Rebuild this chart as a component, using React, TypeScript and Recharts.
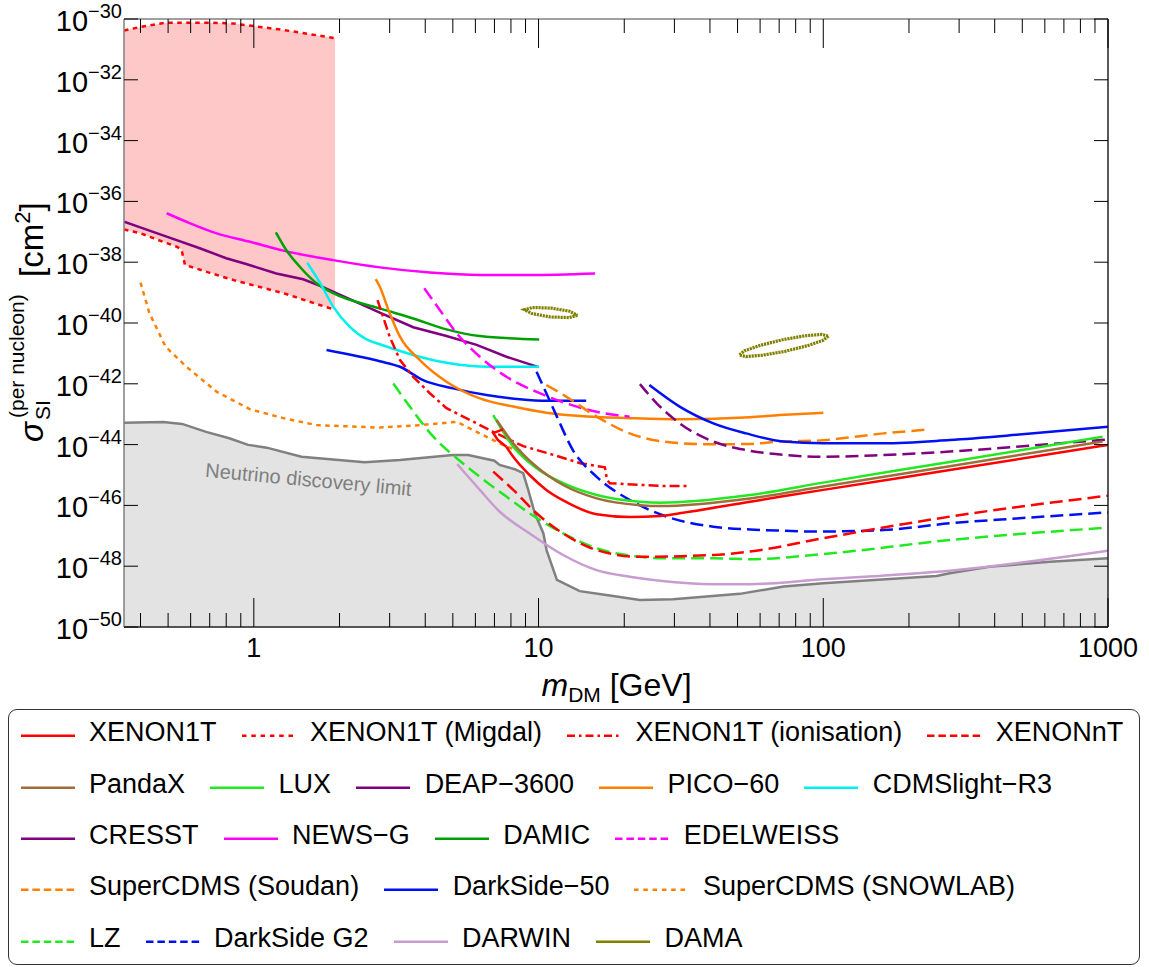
import React from "react";
import {
  ComposedChart,
  Line,
  Area,
  XAxis,
  YAxis,
  ReferenceLine,
  ReferenceDot,
} from "recharts";

type Pt = [number, number];

// values: [m_DM (GeV), sigma_SI (cm^2)]
const xenon1tHook: Pt[] = [
  [7.5, 3.16e-44], [6.93, 2.4e-44], [7.2, 1.41e-44], [7.71, 8.51e-45],
];
const xenon1t: Pt[] = [
  [7.71, 8.51e-45], [8.15, 3.98e-45], [9.3, 1.0e-45], [10.65, 3.24e-46], [12.3, 1.41e-46],
  [16.0, 5.13e-47], [20.9, 4.17e-47], [26.7, 4.47e-47], [31.3, 5.5e-47], [55.3, 1.32e-46],
  [70.4, 1.91e-46], [100, 3.24e-46], [278, 1.45e-45], [1000, 9.77e-45],
];
// [m, lower edge, upper edge]
const migdalBand: [number, number, number][] = [
  [0.35, 1.2e-37, 4.17e-31], [0.4, 8.91e-38, 5.5e-31], [0.49, 4.37e-38, 7.59e-31],
  [0.535, 3.24e-38, 7.59e-31], [0.557, 2.63e-38, 7.59e-31], [0.573, 8.13e-39, 7.59e-31],
  [0.7, 4.47e-39, 7.59e-31], [0.85, 2.57e-39, 7.08e-31], [1.27, 9.55e-40, 4.37e-31],
  [1.93, 2.69e-40, 2.34e-31],
];
const xenon1tIonisation: Pt[] = [
  [2.72, 5.62e-40], [3.0, 3.55e-41], [3.26, 6.03e-42], [3.63, 1.7e-42], [4.15, 4.9e-43],
  [4.75, 1.58e-43], [6.06, 5.01e-44], [6.93, 2.63e-44], [8.83, 8.91e-45], [11.3, 4.57e-45],
  [14.0, 2.45e-45], [17.1, 1.78e-45], [17.4, 6.92e-46], [17.8, 5.37e-46], [26.7, 4.37e-46],
  [34, 4.37e-46],
];
const xenonNT: Pt[] = [
  [6.93, 1.29e-45], [8.15, 3.24e-46], [9.84, 5.5e-47], [12.2, 1.2e-47], [16.0, 3.39e-48],
  [22.7, 2.04e-48], [41.1, 2.34e-48], [55.3, 3.02e-48], [100, 8.32e-48], [278, 4.27e-47],
  [1000, 2.09e-46],
];
const pandaX: Pt[] = [
  [7.12, 6.46e-44], [8.15, 1.1e-44], [9.84, 1.86e-45], [12.2, 4.68e-46], [16.0, 1.7e-46],
  [22.7, 1.02e-46], [26.7, 9.55e-47], [55.3, 1.7e-46], [100, 4.17e-46], [278, 1.95e-45],
  [957, 1.26e-44],
];
const lux: Pt[] = [
  [6.93, 9.33e-44], [8.15, 8.51e-45], [9.84, 1.66e-45], [12.2, 5.37e-46], [16.0, 2.19e-46],
  [22.7, 1.32e-46], [26.7, 1.23e-46], [55.3, 2.19e-46], [100, 5.62e-46], [278, 2.69e-45],
  [957, 1.82e-44],
];
const deap3600: Pt[] = [
  [22.7, 9.77e-43], [26.0, 2.29e-43], [31.3, 5.01e-44], [41.1, 1.26e-44], [53.6, 6.61e-45],
  [72.5, 4.57e-45], [100, 3.98e-45], [163, 4.57e-45], [278, 5.89e-45], [477, 8.51e-45],
  [1000, 1.48e-44],
];
const pico60: Pt[] = [
  [2.68, 2.75e-39], [2.77, 1.55e-39], [3.0, 2.09e-40], [3.26, 3.55e-41], [3.83, 6.03e-42],
  [4.75, 1.17e-42], [6.22, 3.31e-43], [8.15, 1.78e-43], [10.65, 1.12e-43], [14.0, 8.71e-44],
  [20.9, 7.41e-44], [31.3, 6.76e-44], [55.3, 7.94e-44], [70.4, 9.33e-44], [100, 1.12e-43],
];
const cdmsLite: Pt[] = [
  [1.54, 9.55e-39], [1.71, 2.04e-39], [1.9, 3.47e-40], [2.17, 7.59e-41], [2.49, 2.88e-41],
  [2.77, 2.0e-41], [3.63, 8.91e-42], [4.75, 4.9e-42], [6.74, 3.63e-42], [10.05, 3.63e-42],
];
const cresst: Pt[] = [
  [0.35, 2.14e-37], [0.494, 6.92e-38], [0.646, 2.88e-38], [0.8, 1.35e-38], [0.94, 8.71e-39],
  [1.2, 4.27e-39], [1.49, 2.75e-39], [1.71, 1.66e-39], [1.95, 9.55e-40], [2.77, 2.19e-40],
  [3.63, 7.24e-41], [4.75, 3.72e-41], [6.06, 1.91e-41], [7.71, 7.76e-42], [10.0, 3.55e-42],
];
const newsG: Pt[] = [
  [0.494, 4.07e-37], [0.58, 2.14e-37], [0.74, 8.91e-38], [0.97, 4.68e-38], [1.27, 2.4e-38],
  [1.9, 1.17e-38], [2.77, 6.76e-39], [4.15, 4.57e-39], [6.22, 3.8e-39], [9.3, 3.8e-39],
  [15.8, 4.27e-39],
];
const damic: Pt[] = [
  [1.195, 9.55e-38], [1.3, 2.51e-38], [1.45, 7.08e-39], [1.66, 2.04e-39], [1.9, 9.55e-40],
  [2.77, 3.02e-40], [3.63, 1.41e-40], [4.75, 6.17e-41], [6.22, 3.72e-41], [10.05, 2.88e-41],
];
const edelweiss: Pt[] = [
  [3.97, 1.38e-39], [4.5, 2.69e-40], [5.16, 4.57e-41], [6.22, 7.76e-42], [7.71, 1.7e-42],
  [10.1, 4.9e-43], [12.5, 2.29e-43], [16.0, 1.2e-43], [20.9, 8.32e-44],
];
const superCdmsSoudan: Pt[] = [
  [10.65, 9.12e-43], [12.5, 3.8e-43], [16.0, 8.32e-44], [20.9, 2.34e-44], [27.4, 1.26e-44],
  [41.1, 1.02e-44], [55.3, 1.05e-44], [70.4, 1.26e-44], [94.8, 1.35e-44], [163, 2.34e-44],
  [236, 3.16e-44],
];
const darkSide50Low: Pt[] = [
  [1.8, 1.29e-41], [2.77, 5.5e-42], [3.26, 3.63e-42], [3.93, 1.32e-42], [5.01, 7.08e-43],
  [6.56, 4.27e-43], [8.6, 3.09e-43], [10.65, 2.75e-43], [14.7, 2.75e-43],
];
const darkSide50High: Pt[] = [
  [24.5, 9.12e-43], [31.3, 1.78e-43], [41.1, 5.01e-44], [53.6, 2.34e-44], [72.5, 1.26e-44],
  [100, 1.1e-44], [163, 1.1e-44], [278, 1.41e-44], [477, 2.09e-44], [1000, 3.89e-44],
];
const superCdmsSnolab: Pt[] = [
  [0.4, 2.14e-39], [0.43, 2.09e-40], [0.49, 1.66e-41], [0.58, 3.63e-42], [0.74, 5.5e-43],
  [0.97, 1.45e-43], [1.27, 7.41e-44], [1.66, 4.37e-44], [2.77, 3.63e-44], [3.83, 4.37e-44],
  [5.16, 5.62e-44], [6.22, 2.34e-44], [7.71, 8.51e-45], [8.83, 5.89e-45],
];
const lz: Pt[] = [
  [3.09, 1.02e-42], [3.53, 1.78e-43], [4.27, 1.82e-44], [5.16, 3.55e-45], [6.22, 8.71e-46],
  [7.71, 1.95e-46], [9.3, 5.5e-47], [12.2, 1.2e-47], [16.0, 3.89e-48], [22.7, 2.04e-48],
  [26.7, 1.82e-48], [41.1, 1.82e-48], [55.3, 1.7e-48], [100, 2.51e-48], [278, 7.24e-48],
  [1000, 1.86e-47],
];
const darkSideG2: Pt[] = [
  [9.84, 2.51e-42], [10.65, 4.9e-43], [11.6, 8.32e-44], [13.2, 6.61e-45], [16.0, 8.71e-46],
  [20.9, 1.51e-46], [28.2, 4.27e-47], [41.1, 2.0e-47], [55.3, 1.62e-47], [70.4, 1.48e-47],
  [94.8, 1.38e-47], [163, 1.55e-47], [278, 2.57e-47], [477, 3.72e-47], [1000, 5.89e-47],
];
const darwin: Pt[] = [
  [5.18, 2.29e-45], [6.22, 3.24e-46], [7.31, 6.17e-47], [9.3, 1.2e-47], [12.2, 2.34e-48],
  [16.0, 7.41e-49], [20.9, 4.47e-49], [26.7, 3.31e-49], [41.1, 2.57e-49], [55.3, 2.57e-49],
  [100, 3.72e-49], [278, 7.08e-49], [1000, 3.24e-48],
];
// DAMA regions: closed outlines traced around the contour
const damaLow: Pt[] = [
  [13.7, 1.78e-40], [12.8, 1.51e-40], [11.0, 1.58e-40], [9.48, 2.04e-40], [8.92, 2.75e-40],
  [9.52, 3.24e-40], [11.1, 3.09e-40], [12.87, 2.43e-40], [13.7, 1.78e-40],
];
const damaHigh: Pt[] = [
  [104.2, 3.72e-41], [99.8, 2.69e-41], [87.8, 1.78e-41], [73.4, 1.17e-41], [61.2, 8.71e-42],
  [53.5, 7.85e-42], [50.7, 8.91e-42], [53.0, 1.23e-41], [60.3, 1.86e-41], [72.0, 2.82e-41],
  [86.3, 3.8e-41], [98.8, 4.22e-41], [104.2, 3.72e-41],
];
const neutrinoFloor: Pt[] = [
  [0.35, 5.25e-44], [0.48, 5.5e-44], [0.56, 4.8e-44], [0.68, 2.63e-44], [0.82, 1.62e-44],
  [0.955, 9.8e-45], [1.11, 7.94e-45], [1.47, 3.98e-45], [2.45, 2.63e-45], [3.26, 3.1e-45],
  [5.0, 4.57e-45], [5.66, 4.57e-45], [7.0, 2.95e-45], [7.3, 2.14e-45], [8.25, 1.55e-45],
  [8.83, 1.15e-45], [9.2, 3.24e-46], [9.7, 5.5e-47], [10.4, 1.2e-47], [10.67, 3.39e-48],
  [11.6, 3.55e-49], [13.95, 1.51e-49], [17.3, 1.12e-49], [22.7, 7.76e-50], [29.7, 8.13e-50],
  [50.9, 1.23e-49], [72.5, 2.14e-49], [100, 2.75e-49], [250, 4.79e-49], [278, 5.89e-49],
  [383, 9.55e-49], [625, 1.41e-48], [1000, 1.82e-48],
];

const xMajor = [1, 10, 100, 1000];
const xMinor = [
  0.4, 0.5, 0.6, 0.7, 0.8, 0.9, 2, 3, 4, 5, 6, 7, 8, 9,
  20, 30, 40, 50, 60, 70, 80, 90, 200, 300, 400, 500, 600, 700, 800, 900,
];
const yTicks = [1e-50, 1e-48, 1e-46, 1e-44, 1e-42, 1e-40, 1e-38, 1e-36, 1e-34, 1e-32, 1e-30];

const legendRows: string[][] = [
  ["XENON1T", "XENON1T (Migdal)", "XENON1T (ionisation)", "XENONnT"],
  ["PandaX", "LUX", "DEAP\u22123600", "PICO\u221260", "CDMSlight\u2212R3"],
  ["CRESST", "NEWS\u2212G", "DAMIC", "EDELWEISS"],
  ["SuperCDMS (Soudan)", "DarkSide\u221250", "SuperCDMS (SNOWLAB)"],
  ["LZ", "DarkSide G2", "DARWIN", "DAMA"],
];

// styling
const RED = "#ff0000";
const ORANGE = "#ff8000";
const PURPLE = "#800080";
const MAGENTA = "#ff00ff";
const BLUE = "#0010f0";
const LIME = "#22e822";
const OLIVE = "#808000";
const DASH = "13 6";
const DOT = "4.5 4.5";
const DASHDOT = "10 4 3 4";

const legendStyle: Record<string, { color: string; dash?: string }> = {
  "XENON1T": { color: RED },
  "XENON1T (Migdal)": { color: RED, dash: "4.5 4.8" },
  "XENON1T (ionisation)": { color: RED, dash: "8 4 2.5 4" },
  "XENONnT": { color: RED, dash: "7.5 3.9" },
  "PandaX": { color: "#a06c3c" },
  "LUX": { color: LIME },
  "DEAP\u22123600": { color: PURPLE },
  "PICO\u221260": { color: ORANGE },
  "CDMSlight\u2212R3": { color: "#00f0f0" },
  "CRESST": { color: PURPLE },
  "NEWS\u2212G": { color: MAGENTA },
  "DAMIC": { color: "#00a000" },
  "EDELWEISS": { color: MAGENTA, dash: "7.5 3.9" },
  "SuperCDMS (Soudan)": { color: ORANGE, dash: "7.5 3.9" },
  "DarkSide\u221250": { color: BLUE },
  "SuperCDMS (SNOWLAB)": { color: ORANGE, dash: "4.5 4.8" },
  "LZ": { color: LIME, dash: "7.5 3.9" },
  "DarkSide G2": { color: BLUE, dash: "7.5 3.9" },
  "DARWIN": { color: "#c89cd0" },
  "DAMA": { color: OLIVE },
};

const plotSeries = [
  { id: "snolab", data: superCdmsSnolab, color: ORANGE, dash: DOT, curve: "linear" },
  { id: "cresst", data: cresst, color: PURPLE, curve: "linear" },
  { id: "newsg", data: newsG, color: MAGENTA, curve: "monotone" },
  { id: "damic", data: damic, color: "#00a000", curve: "monotone" },
  { id: "cdms", data: cdmsLite, color: "#00f0f0", curve: "monotone" },
  { id: "ds50low", data: darkSide50Low, color: BLUE, curve: "monotone" },
  { id: "pico", data: pico60, color: ORANGE, curve: "monotone" },
  { id: "ion", data: xenon1tIonisation, color: RED, dash: DASHDOT, curve: "linear" },
  { id: "edel", data: edelweiss, color: MAGENTA, dash: DASH, curve: "monotone" },
  { id: "soudan", data: superCdmsSoudan, color: ORANGE, dash: DASH, curve: "monotone" },
  { id: "deap", data: deap3600, color: PURPLE, dash: DASH, curve: "monotone" },
  { id: "ds50high", data: darkSide50High, color: BLUE, curve: "monotone" },
  { id: "dsg2", data: darkSideG2, color: BLUE, dash: DASH, curve: "monotone" },
  { id: "darwin", data: darwin, color: "#c89cd0", curve: "monotone" },
  { id: "lz", data: lz, color: LIME, dash: DASH, curve: "monotone" },
  { id: "xnt", data: xenonNT, color: RED, dash: DASH, curve: "monotone" },
  { id: "lux", data: lux, color: LIME, curve: "monotone" },
  { id: "pandax", data: pandaX, color: "#a06c3c", curve: "monotone" },
  { id: "x1thook", data: xenon1tHook, color: RED, curve: "linear" },
  { id: "x1t", data: xenon1t, color: RED, curve: "monotone" },
  { id: "dama1", data: damaLow, color: OLIVE, dash: "2.2 0.8", curve: "linear", width: 3.2 },
  { id: "dama2", data: damaHigh, color: OLIVE, dash: "2.2 0.8", curve: "linear", width: 3.2 },
];

const toRows = (pts: Pt[]) => pts.map(([m, s]) => ({ m, s }));
const migdalRows = migdalBand.map(([m, lo, hi]) => ({ m, lo, hi, band: [lo, hi] }));

const FONT = "'Liberation Sans', Arial, Helvetica, sans-serif";
const W = 1149;
const H = 709;
const M = { top: 19, right: 41, left: 0, bottom: 42 };
const Y_AXIS_W = 124;
const X_AXIS_H = 40;
const PLOT_W = W - M.right - M.left - Y_AXIS_W; // 984
const PLOT_H = H - M.top - M.bottom - X_AXIS_H; // 608

const renderXTick = (props: any) => {
  const { x, y, payload } = props;
  const major = xMajor.includes(payload.value);
  const len = major ? 29 : 14;
  return (
    <g>
      <line x1={x} x2={x} y1={y} y2={y - len} stroke="#000" strokeWidth={1} />
      <line x1={x} x2={x} y1={y - PLOT_H} y2={y - PLOT_H + len} stroke="#000" strokeWidth={1} />
      {major && (
        <text x={x} y={y + 30} textAnchor="middle" fontSize={27} fontFamily={FONT} fill="#000">
          {payload.value}
        </text>
      )}
    </g>
  );
};

const renderYTick = (props: any) => {
  const { x, y, payload } = props;
  const exp = Math.round(Math.log10(payload.value));
  return (
    <g>
      <line x1={x} x2={x + 14} y1={y} y2={y} stroke="#000" strokeWidth={1} />
      <line x1={x + PLOT_W - 14} x2={x + PLOT_W} y1={y} y2={y} stroke="#000" strokeWidth={1} />
      <text x={x - 2} y={y + 12} textAnchor="end" fontFamily={FONT} fill="#000">
        <tspan fontSize={29}>10</tspan>
        <tspan fontSize={20} dy={-13}>{`\u2212${-exp}`}</tspan>
      </text>
    </g>
  );
};

const NeutrinoText = (props: any) => {
  const { cx, cy } = props;
  return (
    <text
      x={cx}
      y={cy}
      fontSize={20}
      fontFamily={FONT}
      fill="#7f7f7f"
      transform={`rotate(5.3, ${cx}, ${cy})`}
    >
      Neutrino discovery limit
    </text>
  );
};

const LegendSample = ({ color, dash }: { color: string; dash?: string }) => (
  <svg width={54} height={27} style={{ flex: "none", display: "block" }}>
    <line x1={0} x2={54} y1={16.8} y2={16.8} stroke={color} strokeWidth={2.6} strokeDasharray={dash} />
  </svg>
);

const ChartLegend = () => (
  <div
    style={{
      position: "absolute",
      left: 8,
      top: 709,
      width: 1132,
      height: 256,
      boxSizing: "border-box",
      border: "1.5px solid #333",
      borderRadius: 9,
      fontFamily: FONT,
      fontSize: 27,
      color: "#000",
    }}
  >
    {legendRows.map((row, i) => (
      <div
        key={i}
        style={{
          position: "absolute",
          left: 11.5,
          top: 9.4 + i * 51.3,
          height: 27,
          lineHeight: "27px",
          display: "flex",
          alignItems: "flex-start",
          whiteSpace: "nowrap",
        }}
      >
        {row.map((name) => (
          <div key={name} style={{ display: "flex", alignItems: "flex-start", marginRight: 25 }}>
            <LegendSample color={legendStyle[name].color} dash={legendStyle[name].dash} />
            <span style={{ marginLeft: 14.5 }}>{name}</span>
          </div>
        ))}
      </div>
    ))}
  </div>
);

export default function App() {
  return (
    <div
      style={{
        position: "absolute",
        left: 0,
        top: 0,
        width: W,
        height: 967,
        background: "#fff",
        fontFamily: FONT,
      }}
    >
      <ComposedChart width={W} height={H} margin={M}>
        <XAxis
          dataKey="m"
          type="number"
          scale="log"
          domain={[0.35, 1000]}
          allowDataOverflow
          ticks={[...xMinor, ...xMajor].sort((a, b) => a - b)}
          interval={0}
          tick={renderXTick}
          tickLine={false}
          tickSize={0}
          tickMargin={0}
          height={X_AXIS_H}
          axisLine={{ stroke: "#222", strokeWidth: 1.5 }}
        />
        <YAxis
          type="number"
          scale="log"
          domain={[1e-50, 1e-30]}
          allowDataOverflow
          ticks={yTicks}
          interval={0}
          tick={renderYTick}
          tickLine={false}
          tickSize={0}
          tickMargin={0}
          width={Y_AXIS_W}
          axisLine={{ stroke: "#808080", strokeWidth: 1.5 }}
        />
        <Area
          data={toRows(neutrinoFloor)}
          dataKey="s"
          type="linear"
          baseValue="dataMin"
          fill="#e3e3e3"
          fillOpacity={1}
          stroke="#808080"
          strokeWidth={2.5}
          isAnimationActive={false}
        />
        <Area
          data={migdalRows}
          dataKey="band"
          type="linear"
          fill="#ffc8c8"
          fillOpacity={1}
          stroke="none"
          isAnimationActive={false}
        />
        <Line
          data={migdalRows}
          dataKey="hi"
          type="linear"
          stroke={RED}
          strokeWidth={2.5}
          strokeDasharray={DOT}
          dot={false}
          isAnimationActive={false}
        />
        <Line
          data={migdalRows}
          dataKey="lo"
          type="linear"
          stroke={RED}
          strokeWidth={2.5}
          strokeDasharray={DOT}
          dot={false}
          isAnimationActive={false}
        />
        {plotSeries.map((s) => (
          <Line
            key={s.id}
            data={toRows(s.data)}
            dataKey="s"
            type={s.curve as any}
            stroke={s.color}
            strokeWidth={s.width ?? 2.5}
            strokeDasharray={s.dash}
            dot={false}
            isAnimationActive={false}
          />
        ))}
        <ReferenceDot x={0.673} y={8.7e-46} r={0} shape={NeutrinoText} ifOverflow="visible" />
        <ReferenceLine y={1e-30} stroke="#808080" strokeWidth={1.5} ifOverflow="visible" />
        <ReferenceLine x={1000} stroke="#222" strokeWidth={1.5} ifOverflow="visible" />
      </ComposedChart>

      {/* axis titles */}
      <svg
        width={W}
        height={H}
        style={{ position: "absolute", left: 0, top: 0, pointerEvents: "none" }}
      >
        <text x={616.5} y={696} textAnchor="middle" fontFamily={FONT} fill="#000">
          <tspan fontSize={32} fontStyle="italic">m</tspan>
          <tspan fontSize={21} dy={6}>DM</tspan>
          <tspan fontSize={32} dy={-6}> [GeV]</tspan>
        </text>
        <g transform="translate(43, 442) rotate(-90)">
          <text fontFamily={FONT} fill="#000">
            <tspan x={0} y={0} fontSize={33} fontStyle="italic">σ</tspan>
            <tspan x={22} y={7} fontSize={21}>SI</tspan>
            <tspan x={24} y={-19} fontSize={21}>(per nucleon)</tspan>
            <tspan x={165} y={0} fontSize={33}>[cm</tspan>
            <tspan fontSize={22} dy={-13}>2</tspan>
            <tspan fontSize={33} dy={13}>]</tspan>
          </text>
        </g>
      </svg>

      <ChartLegend />
    </div>
  );
}
